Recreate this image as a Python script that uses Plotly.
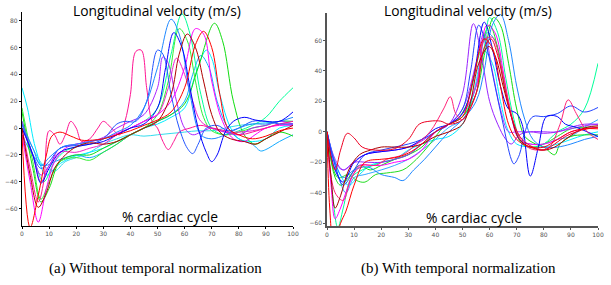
import plotly.graph_objects as go

W, H = 611, 285

# ---------------- Panel (a): without temporal normalization ----------------
a_dodger_x = [0, 4, 7, 10, 15, 20, 25, 30, 35, 40, 45, 50, 55, 58, 62, 66, 70, 75, 80, 85, 90, 95, 100]
a_dodger_y = [2, -15, -28, -22, -14, -12, -10, -8, -3, 2, 15, 45, 81, 70, 25, -5, -8, -5, 0, 3, 3, 5, 8]

a_spring_x = [0, 4, 8, 12, 16, 20, 25, 30, 35, 40, 45, 50, 55, 59, 62, 66, 70, 75, 80, 85, 90, 95, 100]
a_spring_y = [5, -20, -40, -25, -17, -14, -10, -8, -5, 0, 5, 15, 55, 85, 70, 25, 0, -5, -2, 2, 8, 20, 30]

a_green_x = [0, 4, 7, 10, 14, 20, 25, 30, 35, 40, 45, 50, 55, 60, 65, 71, 74, 78, 82, 86, 90, 95, 100]
a_green_y = [12, -30, -55, -45, -25, -20, -20, -15, -10, -5, 0, 5, 10, 18, 45, 78, 65, 20, -5, -12, -8, -3, -6]

a_magenta_x = [0, 3, 6, 9, 12, 16, 20, 25, 30, 35, 40, 45, 50, 55, 60, 64, 67, 70, 74, 78, 82, 86, 90, 95, 100]
a_magenta_y = [-5, -40, -70, -45, -25, -15, -12, -10, -8, -4, 0, 5, 10, 20, 45, 74, 70, 35, 5, -8, -10, -5, 0, 2, 2]

a_red_x = [0, 3, 6, 9, 11, 14, 18, 22, 26, 30, 35, 40, 45, 50, 55, 60, 64, 67, 70, 73, 76, 80, 85, 90, 95, 100]
a_red_y = [-5, -74, -50, -20, -6, -3, -6, -9, -9, -8, -5, -2, 2, 6, 12, 30, 62, 72, 60, 25, 0, -5, -8, -6, -2, 0]

a_darkred_x = [0, 3, 6, 9, 12, 16, 20, 25, 30, 35, 40, 45, 50, 55, 58, 61, 64, 67, 70, 73, 77, 82, 86, 90, 95, 100]
a_darkred_y = [0, -35, -59, -48, -30, -20, -14, -11, -12, -10, -5, 0, 5, 25, 55, 70, 60, 35, 10, -3, -8, -10, -12, -8, -3, 2]

a_green2_x = [0, 4, 7, 10, 14, 20, 25, 30, 35, 40, 45, 50, 54, 58, 61, 64, 67, 70, 75, 80, 85, 90, 95, 100]
a_green2_y = [15, -25, -53, -40, -25, -22, -24, -18, -12, -5, 0, 10, 35, 74, 65, 35, 8, -2, -5, -3, 0, 2, 5, 5]

a_blue_x = [0, 4, 7, 10, 14, 20, 25, 30, 35, 40, 45, 50, 53, 56, 59, 62, 65, 68, 70, 72, 75, 78, 82, 86, 90, 95, 100]
a_blue_y = [0, -20, -41, -30, -18, -14, -12, -10, -5, 0, 3, 15, 45, 71, 60, 30, 0, -18, -25, -20, -3, 5, 8, 6, 5, 5, 12]

a_pink_x = [0, 3, 6, 8, 10, 12, 14, 16, 18, 20, 22, 25, 28, 30, 33, 36, 38, 40, 42, 44, 46, 48, 50, 52, 54, 56, 58, 62, 66, 70, 75, 80, 85, 90, 95, 100]
a_pink_y = [0, -30, -55, -40, -2, -5, -12, -5, 5, 0, -10, -8, 0, 5, 0, -5, 5, 25, 57, 58, 30, 5, 0, -10, -16, -10, -3, 0, 2, 0, -2, -5, -3, 0, 3, 5]

a_royal_x = [0, 4, 7, 10, 14, 20, 25, 30, 35, 38, 42, 46, 50, 52, 55, 58, 61, 63, 65, 68, 72, 76, 80, 85, 90, 95, 100]
a_royal_y = [3, -20, -30, -25, -15, -13, -12, -8, 3, 5, 5, 20, 58, 55, 25, 0, -15, -19, -12, 0, 2, -2, 0, 5, 5, 3, 3]

a_violet_x = [0, 4, 7, 10, 14, 20, 25, 30, 35, 40, 45, 50, 52, 54, 57, 60, 63, 66, 70, 75, 80, 85, 90, 95, 100]
a_violet_y = [5, -20, -35, -28, -15, -12, -10, -7, 0, 5, 10, 30, 53, 48, 20, 0, -5, -3, 0, -3, -5, 0, 2, 5, 3]

a_cyan_x = [0, 2, 5, 9, 13, 18, 25, 30, 35, 40, 45, 50, 55, 60, 64, 68, 70, 73, 77, 80, 85, 90, 95, 100]
a_cyan_y = [30, 15, -15, -35, -28, -22, -18, -15, -10, -5, 0, 3, 8, 15, 40, 58, 52, 25, 0, -8, -10, -8, 0, 2]

a_sky_x = [0, 4, 8, 12, 16, 20, 25, 30, 35, 40, 45, 50, 55, 60, 63, 66, 69, 72, 76, 80, 85, 88, 90, 95, 100]
a_sky_y = [-5, -20, -28, -25, -22, -20, -22, -18, -12, -5, 0, 5, 10, 20, 40, 54, 45, 20, 0, -8, -12, -17, -16, -10, -5]

a_orchid_x = [0, 4, 7, 10, 14, 20, 25, 30, 35, 40, 45, 50, 54, 57, 60, 63, 66, 70, 75, 80, 85, 90, 95, 100]
a_orchid_y = [0, -20, -40, -28, -18, -18, -15, -12, -5, 0, 5, 10, 30, 52, 40, 20, 5, 0, -3, -3, -2, 0, 3, 3]

a_aqua_x = [0, 4, 8, 12, 16, 20, 25, 30, 35, 40, 45, 50, 55, 60, 65, 70, 75, 80, 85, 90, 95, 100]
a_aqua_y = [5, -15, -28, -32, -25, -22, -18, -12, -8, -5, -6, -5, -4, -3, -2, -2, 0, 2, 3, 4, 5, 5]

# ---------------- Panel (b): with temporal normalization ----------------
b_dodger_x = [0, 3, 6, 10, 15, 20, 25, 28, 32, 36, 40, 45, 50, 55, 58, 61, 64, 67, 70, 73, 76, 80, 85, 90, 95, 100]
b_dodger_y = [0, -20, -30, -25, -23, -28, -30, -32, -25, -18, -10, 0, 8, 20, 40, 70, 77, 60, 30, 8, -5, -10, -10, -8, -5, -3]

b_green_x = [0, 3, 5, 8, 12, 16, 20, 25, 30, 35, 40, 45, 50, 55, 58, 61.5, 64, 67, 70, 73, 77, 80, 84, 86, 90, 95, 100]
b_green_y = [0, -30, -35, -30, -22, -25, -22, -18, -15, -10, 0, 5, 10, 25, 50, 75, 70, 45, 15, -3, -8, -10, -15, -8, -3, -2, -2]

b_spring_x = [0, 2, 4, 6, 9, 13, 17, 20, 25, 30, 35, 40, 45, 50, 55, 58, 60, 63, 66, 69, 72, 76, 80, 85, 90, 95, 100]
b_spring_y = [0, -40, -63, -50, -30, -25, -22, -20, -18, -15, -8, 0, 5, 10, 30, 55, 75, 65, 35, 8, -8, -10, -8, 0, 5, 15, 45]

b_blue_x = [0, 3, 6, 10, 14, 20, 25, 30, 35, 40, 45, 50, 54, 58, 61, 64, 67, 70, 72, 75, 78, 81, 85, 88, 92, 96, 100]
b_blue_y = [0, -25, -33, -20, -15, -13, -12, -10, -5, 2, 5, 12, 35, 72, 55, 30, 15, 12, 5, -29, -10, 10, 10, 5, 3, 0, -3]

b_violet_x = [0, 3, 6, 10, 15, 20, 25, 30, 35, 40, 45, 50, 54, 57, 60, 63, 66, 68, 71, 75, 80, 85, 90, 95, 100]
b_violet_y = [0, -20, -25, -20, -20, -20, -18, -15, -8, 0, 5, 25, 71, 50, 20, 5, -5, -8, -2, 0, 0, 0, 3, 5, 5]

b_royal_x = [0, 3, 6, 10, 14, 20, 25, 30, 35, 40, 45, 50, 53, 56, 59, 62, 65, 68, 69, 71, 73, 76, 80, 85, 90, 95, 100]
b_royal_y = [0, -22, -35, -25, -15, -12, -10, -8, -5, 0, 5, 15, 40, 70, 55, 30, 5, -18, -21, -15, 0, 10, 10, 12, 17, 13, 16]

b_magenta_x = [0, 1.5, 3, 5, 8, 12, 16, 20, 25, 30, 35, 40, 45, 50, 55, 59, 62, 65, 68, 71, 75, 80, 85, 90, 95, 100]
b_magenta_y = [0, -35, -57, -50, -35, -22, -22, -22, -20, -18, -12, 0, 5, 12, 30, 70, 65, 40, 10, -5, -8, -8, -5, 0, 2, 3]

b_red_x = [0, 1, 2.5, 5, 7, 10, 14, 20, 25, 30, 35, 40, 45, 50, 54, 58, 61, 64, 67, 70, 75, 80, 85, 90, 95, 100]
b_red_y = [0, -50, -75, -60, -52, -35, -20, -18, -17, -14, -8, 0, 5, 10, 35, 61, 55, 30, 5, -5, -10, -10, -5, 0, 2, 2]

b_crimson_x = [0, 3, 5, 7.5, 10, 13, 18, 25, 30, 34, 38, 42, 45, 50, 55, 58, 60.5, 63, 66, 69, 72, 76, 80, 84, 88, 92, 96, 100]
b_crimson_y = [0, -25, -12, -1, -4, -10, -12, -11, -5, 5, 7, 7, 5, 8, 25, 55, 61, 50, 25, 5, -5, -10, -12, -8, -3, 0, 2, 3]

b_darkred_x = [0, 1.5, 3, 5, 8, 12, 16, 20, 25, 30, 35, 40, 45, 50, 53, 56, 59.7, 62, 65, 68, 71, 75, 80, 84, 88, 92, 96, 100]
b_darkred_y = [0, -30, -50, -42, -25, -15, -12, -10, -10, -10, -8, -3, 0, 5, 20, 45, 56, 50, 30, 10, -5, -10, -12, -10, -5, 0, 3, 4]

b_cyan_x = [0, 4, 8, 12, 16, 20, 25, 30, 35, 40, 45, 50, 54, 58, 61, 64, 67, 70, 75, 80, 85, 90, 95, 100]
b_cyan_y = [0, -25, -35, -28, -22, -20, -18, -12, -8, -5, -3, 5, 25, 53, 45, 20, 0, -8, -10, -10, -8, -5, -2, 0]

b_sky_x = [0, 4, 7, 10, 14, 20, 25, 30, 35, 40, 45, 50, 55, 59, 62, 65, 68, 71, 75, 80, 85, 90, 95, 100]
b_sky_y = [0, -28, -40, -30, -28, -25, -22, -18, -12, -5, 3, 8, 30, 65, 60, 35, 10, -5, -8, -8, -5, -3, 3, 8]

b_rose_x = [0, 3, 6, 9, 13, 18, 22, 28, 33, 38, 43, 45.5, 47.5, 50, 55, 58, 61, 64, 67, 70, 74, 78, 82, 86, 89, 92, 96, 100]
b_rose_y = [0, -40, -45, -30, -22, -22, -18, -15, -8, 0, 15, 23, 12, 8, 25, 60, 62, 45, 20, 0, -10, -12, -10, 5, 21, 12, 0, -5]

b_purple_x = [0, 3, 6, 10, 14, 20, 25, 30, 35, 40, 45, 50, 55, 58, 61, 64, 67, 70, 75, 80, 85, 90, 95, 100]
b_purple_y = [0, -18, -25, -20, -15, -13, -12, -10, -6, 0, 5, 15, 45, 65, 40, 15, 0, 0, 0, -1, 0, 2, 4, 5]

b_lime_x = [0, 4, 8, 11, 14, 18, 22, 28, 33, 38, 43, 48, 52, 56, 60, 63, 66, 69, 72, 76, 80, 85, 90, 95, 100]
b_lime_y = [0, -30, -28, -32, -33, -28, -27, -25, -18, -8, 3, 8, 20, 50, 70, 55, 25, 5, -8, -10, -8, -3, 2, 3, 3]

X_TICKS = [0, 10, 20, 30, 40, 50, 60, 70, 80, 90, 100]
A_Y_TICKS = [-60, -40, -20, 0, 20, 40, 60, 80]
B_Y_TICKS = [-60, -40, -20, 0, 20, 40, 60]

TITLE = "Longitudinal velocity (m/s)"
XLABEL = "% cardiac cycle"
CAP_A = "(a) Without temporal normalization"
CAP_B = "(b) With temporal normalization"

# ---------------- styles ----------------
panel_a = [
    (a_aqua_x, a_aqua_y, "#33ddee"),
    (a_sky_x, a_sky_y, "#11aaff"),
    (a_cyan_x, a_cyan_y, "#00eeff"),
    (a_spring_x, a_spring_y, "#00ff99"),
    (a_green_x, a_green_y, "#11dd11"),
    (a_green2_x, a_green2_y, "#33ee33"),
    (a_orchid_x, a_orchid_y, "#ee22cc"),
    (a_violet_x, a_violet_y, "#aa22ff"),
    (a_magenta_x, a_magenta_y, "#ff00ff"),
    (a_pink_x, a_pink_y, "#ff1493"),
    (a_royal_x, a_royal_y, "#2255ff"),
    (a_dodger_x, a_dodger_y, "#1e88ff"),
    (a_blue_x, a_blue_y, "#0000ff"),
    (a_darkred_x, a_darkred_y, "#b00000"),
    (a_red_x, a_red_y, "#ff0000"),
]
panel_b = [
    (b_cyan_x, b_cyan_y, "#00eeff"),
    (b_sky_x, b_sky_y, "#33aaff"),
    (b_lime_x, b_lime_y, "#22dd22"),
    (b_spring_x, b_spring_y, "#00ff99"),
    (b_green_x, b_green_y, "#11dd11"),
    (b_purple_x, b_purple_y, "#aa33ff"),
    (b_violet_x, b_violet_y, "#9922ff"),
    (b_magenta_x, b_magenta_y, "#ff00ff"),
    (b_dodger_x, b_dodger_y, "#1e88ff"),
    (b_royal_x, b_royal_y, "#2244ff"),
    (b_blue_x, b_blue_y, "#0000ff"),
    (b_rose_x, b_rose_y, "#ff2277"),
    (b_darkred_x, b_darkred_y, "#aa0000"),
    (b_crimson_x, b_crimson_y, "#ee0022"),
    (b_red_x, b_red_y, "#ff0000"),
]

fig = go.Figure()
for xs, ys, c in panel_a:
    fig.add_trace(go.Scatter(x=xs, y=ys, mode="lines", xaxis="x", yaxis="y",
                             line=dict(color=c, width=1, shape="spline", smoothing=1.0),
                             showlegend=False, hoverinfo="skip"))
for xs, ys, c in panel_b:
    fig.add_trace(go.Scatter(x=xs, y=ys, mode="lines", xaxis="x2", yaxis="y2",
                             line=dict(color=c, width=1, shape="spline", smoothing=1.0),
                             showlegend=False, hoverinfo="skip"))

def px(x):
    return x / W

def py(y):
    return 1 - y / H

tickfont = dict(family="DejaVu Sans", size=6, color="#555555")
axis_a = dict(showgrid=False, zeroline=False, showline=True, linecolor="black",
              linewidth=1.2, ticks="outside", ticklen=2, tickcolor="black",
              tickfont=tickfont, fixedrange=True, automargin=False)
axis_b = dict(axis_a, linecolor="#555555", linewidth=1.6, tickcolor="#555555")

fig.update_layout(
    width=W, height=H,
    margin=dict(l=0, r=0, t=0, b=0),
    paper_bgcolor="white", plot_bgcolor="white",
    xaxis=dict(domain=[px(22), px(293)], range=[0, 100], tickvals=X_TICKS,
               anchor="y", **axis_a),
    yaxis=dict(domain=[py(226), py(12)], range=[-72.9, 86.4], tickvals=A_Y_TICKS,
               anchor="x", **axis_a),
    xaxis2=dict(domain=[px(327), px(598)], range=[0, 100], tickvals=X_TICKS,
                anchor="y2", **axis_b),
    yaxis2=dict(domain=[py(226), py(13)], range=[-61.8, 78], tickvals=B_Y_TICKS,
                anchor="x2", **axis_b),
)

title_font = dict(family="Open Sans", size=13.8, color="black")
cap_font = dict(family="Liberation Serif", size=15, color="black")
ann = [
    dict(text=TITLE, x=px(157), y=py(10), font=title_font),
    dict(text=TITLE, x=px(468), y=py(10), font=title_font),
    dict(text=XLABEL, x=px(170), y=py(216), font=title_font),
    dict(text=XLABEL, x=px(474), y=py(217), font=title_font),
    dict(text=CAP_A, x=px(155), y=py(268), font=cap_font),
    dict(text=CAP_B, x=px(459), y=py(268), font=cap_font),
]
for a in ann:
    fig.add_annotation(xref="paper", yref="paper", showarrow=False,
                       xanchor="center", yanchor="middle", **a)

fig.write_html("out.html",
               config={"displayModeBar": False, "staticPlot": True},
               post_script="document.body.style.margin='0px';document.body.style.padding='0px';")
